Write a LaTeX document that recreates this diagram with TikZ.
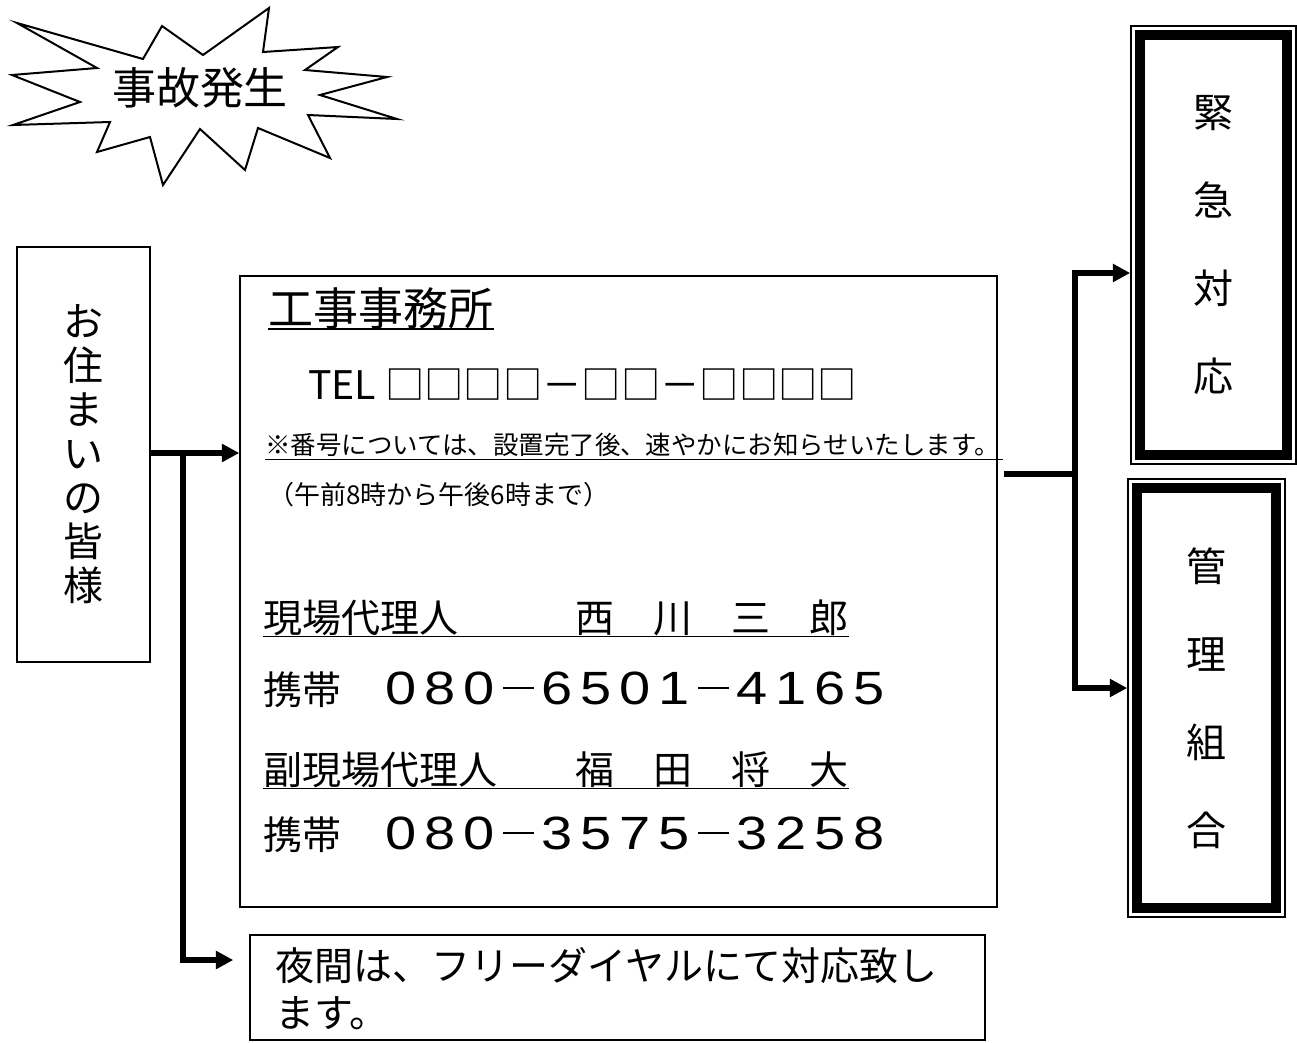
\documentclass[tikz,border=0pt]{standalone}
\usepackage{fontspec}
\usepackage{graphicx}
\setmainfont{Noto Sans CJK JP}
\newfontfamily\digfont{Liberation Sans}
\usetikzlibrary{arrows.meta}
\newcommand\dsh{\rule[11.5pt]{19pt}{2.2pt}}
\ExplSyntaxOn
\NewDocumentCommand\spaceddigits{m}{\tl_map_inline:nn{#1}{\makebox[29.25pt]{\scalebox{1.2}[1]{##1}}}}
\ExplSyntaxOff
\tikzset{
  box/.style={draw, line width=1.1pt, inner sep=0pt},
  conn/.style={line width=4pt, -{Triangle[length=13pt,width=13pt]}},
  wire/.style={line width=4pt},
  txt/.style={inner sep=0pt, anchor=west},
  uline/.style={line width=1.1pt},
  thickin/.style={line width=7.5pt},
}
\begin{document}
\begin{tikzpicture}[x=0.75pt,y=-0.75pt]
\useasboundingbox (0,0) rectangle (1297,1043);
% starburst
\draw[line width=1.5pt, line join=miter] (17,23) -- (143,59) -- (162,26) -- (203,55) -- (269,8) -- (263,52) -- (338,47) -- (305,70) -- (387,77) -- (320,95) -- (397,119) -- (308,115) -- (330,158) -- (258,128) -- (245,170) -- (200,129) -- (163,185) -- (150,137) -- (97,152) -- (110,122) -- (13,125) -- (80,102) -- (12,75) -- (97,68) -- cycle;
\node[inner sep=0pt, font={\fontsize{33pt}{33pt}\selectfont}] (burst) at (200,88) {事故発生};
% left box
\node[box, minimum width=99.75pt, minimum height=311.25pt, align=center, font={\fontsize{30pt}{33pt}\selectfont}] (resid) at (83.5,454.5)
  {お\\住\\ま\\い\\の\\皆\\様};
% main box
\node[box, minimum width=567.75pt, minimum height=473.25pt] (office) at (618.5,591.5) {};
\node[txt, font={\fontsize{33.75pt}{34pt}\selectfont}] (t1) at (268,308) {工事事務所};
\draw[uline] (t1.south west) -- (t1.south east);
\node[txt, font={\fontsize{29.5pt}{30pt}\selectfont}] (t2) at (308,385) {TEL □□□□－□□－□□□□};
\node[txt, font={\fontsize{19.1pt}{20pt}\selectfont}] (t3) at (265,445) {※番号については、設置完了後、速やかにお知らせいたします。};
\coordinate (u3) at (1003,0);
\draw[uline] ([yshift=-2pt]t3.south west) -- ([yshift=-2pt]t3.south west -| u3);
\node[txt, font={\fontsize{19.5pt}{20pt}\selectfont}] (t4) at (268,495) {（午前8時から午後6時まで）};
\node[txt, font={\fontsize{29.25pt}{30pt}\selectfont}] (t5) at (263,618) {現場代理人　　　西　川　三　郎};
\draw[uline] (t5.south west) -- (t5.south east);
\node[txt, font={\fontsize{29.25pt}{30pt}\selectfont}] (t6) at (263,690) {携帯\hspace{30.4pt}{\digfont\fontsize{35pt}{36pt}\selectfont\spaceddigits{080\dsh 6501\dsh 4165}}};
\node[txt, font={\fontsize{29.25pt}{30pt}\selectfont}] (t7) at (263,770) {副現場代理人　　福　田　将　大};
\draw[uline] (t7.south west) -- (t7.south east);
\node[txt, font={\fontsize{29.25pt}{30pt}\selectfont}] (t8) at (263,835) {携帯\hspace{30.4pt}{\digfont\fontsize{35pt}{36pt}\selectfont\spaceddigits{080\dsh 3575\dsh 3258}}};
% night box
\node[box, minimum width=551.25pt, minimum height=78.75pt] (night) at (617.5,987.5) {};
\node[txt, align=left, font={\fontsize{29.25pt}{35.25pt}\selectfont}] (nt) at (275,989) {夜間は、フリーダイヤルにて対応致し\\ます。};
% right boxes
\node[box, line width=1.2pt, minimum width=123.75pt, minimum height=328.5pt, align=center, font={\fontsize{30pt}{66pt}\selectfont}] (emerg) at (1213.5,245)
  {緊\\急\\対\\応};
\draw[thickin] ([shift={(9.5,9.5)}]emerg.north west) rectangle ([shift={(-9.5,-9.5)}]emerg.south east);
\node[box, line width=1.2pt, minimum width=117.75pt, minimum height=328.5pt, align=center, font={\fontsize{30pt}{66pt}\selectfont}] (kanri) at (1206.5,698)
  {管\\理\\組\\合};
\draw[thickin] ([shift={(9.5,9.5)}]kanri.north west) rectangle ([shift={(-9.5,-9.5)}]kanri.south east);
% connectors left
\coordinate (j1) at (183,453);
\coordinate (j2) at (183,960);
\draw[conn] (resid.east |- j1) -- (office.west |- j1);
\draw[conn] (j1) -- (j2) -- ([xshift=-12pt]night.west |- j2);
% connectors right
\coordinate (k1) at (1075,474);
\coordinate (k2) at (1075,273);
\coordinate (k3) at (1075,688);
\draw[wire] ([xshift=5pt]office.east |- k1) -- (k1);
\draw[conn] (k1) -- (k2) -- (emerg.west |- k2);
\draw[conn] (k1) -- (k3) -- (kanri.west |- k3);
\end{tikzpicture}
\end{document}
